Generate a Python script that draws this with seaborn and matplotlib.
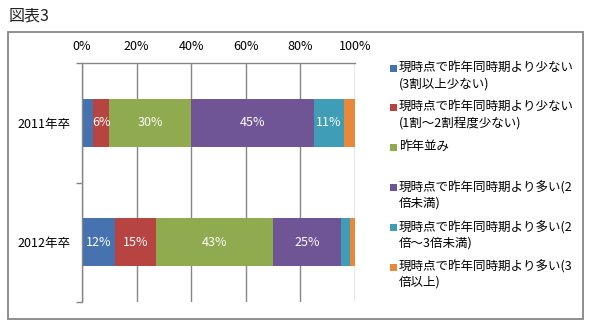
import matplotlib
matplotlib.use("Agg")
import matplotlib.pyplot as plt
from matplotlib.patches import Rectangle
from matplotlib.ticker import FixedLocator, FuncFormatter
import numpy as np
import pandas as pd
import seaborn as sns

# Survey answers by graduating year (percent of respondents)
categories = ["2011年卒", "2012年卒"]
series_names = [
    "現時点で昨年同時期より少ない(3割以上少ない)",
    "現時点で昨年同時期より少ない(1割～2割程度少ない)",
    "昨年並み",
    "現時点で昨年同時期より多い(2倍未満)",
    "現時点で昨年同時期より多い(2倍～3倍未満)",
    "現時点で昨年同時期より多い(3倍以上)",
]
legend_lines = [
    ["現時点で昨年同時期より少ない", "(3割以上少ない)"],
    ["現時点で昨年同時期より少ない", "(1割～2割程度少ない)"],
    ["昨年並み"],
    ["現時点で昨年同時期より多い(2", "倍未満)"],
    ["現時点で昨年同時期より多い(2", "倍～3倍未満)"],
    ["現時点で昨年同時期より多い(3", "倍以上)"],
]
values_2011 = [4, 6, 30, 45, 11, 4]
values_2012 = [12, 15, 43, 25, 3, 2]
x_ticks = [0, 20, 40, 60, 80, 100]
colors = ["#4672B0", "#B84441", "#8FAA4F", "#6F5596", "#3F9DB8", "#E8883A"]

sns.set_style("white")
plt.rcParams["font.family"] = ["Noto Sans CJK JP", "DejaVu Sans"]

W, H = 590, 325
fig = plt.figure(figsize=(W / 100, H / 100), dpi=100)


def fx(x):
    return x / W


def fy(y):
    return 1 - y / H


ax = fig.add_axes([fx(82), fy(302), (355 - 82) / W, (302 - 63) / H])

# Long-form table with running totals for stacking
vals = np.array([values_2011, values_2012], dtype=float)
cum = np.cumsum(vals, axis=1)
rows = []
for ci, cat in enumerate(categories):
    for si, name in enumerate(series_names):
        rows.append({"category": cat, "series": name, "value": vals[ci, si],
                     "cum": cum[ci, si], "start": cum[ci, si] - vals[ci, si]})
df = pd.DataFrame(rows)

# Draw the running totals from the outermost segment inward so each overlays the next
for si in reversed(range(len(series_names))):
    sub = df[df["series"] == series_names[si]]
    sns.barplot(data=sub, x="cum", y="category", order=categories, orient="h",
                color=colors[si], saturation=1, width=0.4, linewidth=0,
                errorbar=None, ax=ax)

# Segment value labels
for _, r in df.iterrows():
    if r["value"] >= 5:
        ax.text(r["start"] + r["value"] / 2, categories.index(r["category"]),
                f"{r['value']:.0f}%", color="white", ha="center", va="center",
                fontsize=9)

grid_c = "#868686"
ax.set_xlim(0, 100)
ax.set_ylim(1.5, -0.5)
ax.xaxis.tick_top()
ax.xaxis.set_major_locator(FixedLocator(x_ticks))
ax.xaxis.set_major_formatter(FuncFormatter(lambda v, p: f"{v:.0f}%"))
ax.set_xlabel("")
ax.set_ylabel("")
ax.set_axisbelow(True)
ax.grid(axis="x", color=grid_c, linewidth=1)
ax.grid(axis="y", visible=False)
ax.tick_params(axis="x", length=0, pad=7.5, labelsize=9, colors="black")
ax.tick_params(axis="y", which="major", length=0, pad=8, labelsize=9, colors="black")
ax.yaxis.set_minor_locator(FixedLocator([-0.5, 0.5, 1.5]))
ax.tick_params(axis="y", which="minor", direction="out", length=4, width=1,
               color=grid_c, left=True)
for side in ["right", "bottom"]:
    ax.spines[side].set_visible(False)
for side in ["top", "left"]:
    ax.spines[side].set_visible(True)
    ax.spines[side].set_color(grid_c)
    ax.spines[side].set_linewidth(1)

# Legend on the right
entry_y = [68.5, 107.5, 147, 187.5, 227.5, 267]
for si, lines in enumerate(legend_lines):
    y0 = entry_y[si]
    fig.patches.append(Rectangle((fx(390), fy(y0 + 3.5)), 7 / W, 7 / H,
                                 transform=fig.transFigure, facecolor=colors[si],
                                 edgecolor="none"))
    for li, line in enumerate(lines):
        fig.text(fx(399), fy(y0 + li * 15.5), line, ha="left", va="center",
                 fontsize=9, color="black")

# Outer frame and caption
fig.patches.append(Rectangle((fx(8), fy(319)), (583 - 8) / W, (319 - 32) / H,
                             transform=fig.transFigure, fill=False,
                             edgecolor=grid_c, linewidth=1.3))
fig.text(fx(9), fy(15.5), "図表3", ha="left", va="center", fontsize=11.5,
         color="#222222")

fig.savefig("out.png", dpi=100)
